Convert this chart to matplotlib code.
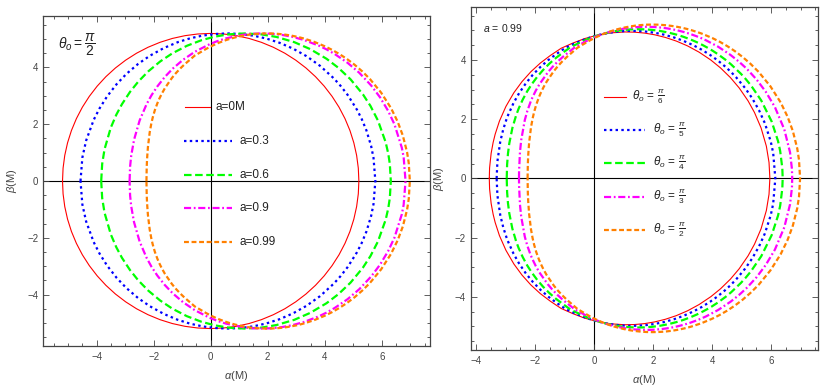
import numpy as np
import matplotlib.pyplot as plt
from matplotlib.lines import Line2D
from matplotlib.ticker import MultipleLocator

plt.rcParams['font.family'] = ['Liberation Sans', 'DejaVu Sans']
plt.rcParams['mathtext.fontset'] = 'custom'
plt.rcParams['mathtext.rm'] = 'Liberation Sans'
plt.rcParams['mathtext.it'] = 'Liberation Sans:italic'
plt.rcParams['mathtext.bf'] = 'Liberation Sans:bold'

# upper halves of the shadow contours (alpha, beta)
# left panel: theta_o = pi/2, different spin a
a0_alpha = [-5.196, -5.176, -5.117, -5.019, -4.883, -4.709, -4.500, -4.256, -3.980, -3.674,
            -3.340, -2.980, -2.598, -2.196, -1.777, -1.345, -0.902, -0.453, 0.000,
            0.453, 0.902, 1.345, 1.777, 2.196, 2.598, 2.980, 3.340, 3.674, 3.980,
            4.256, 4.500, 4.709, 4.883, 5.019, 5.117, 5.176, 5.196]
a0_beta = [0.000, 0.453, 0.902, 1.345, 1.777, 2.196, 2.598, 2.980, 3.340, 3.674,
           3.980, 4.256, 4.500, 4.709, 4.883, 5.019, 5.117, 5.176, 5.196,
           5.176, 5.117, 5.019, 4.883, 4.709, 4.500, 4.256, 3.980, 3.674, 3.340,
           2.980, 2.598, 2.196, 1.777, 1.345, 0.902, 0.453, 0.000]

a03_alpha = [-4.565, -4.500, -4.368, -4.103, -3.903, -3.635, -3.298, -2.958, -2.547, -2.131,
             -1.641, -1.146, -0.716, -0.282, 0.157, 0.600, 1.048, 1.500, 1.958, 2.420,
             2.887, 3.358, 3.835, 4.317, 4.560, 4.804, 5.131, 5.296, 5.461, 5.626,
             5.709, 5.774]
a03_beta = [0.000, 0.825, 1.423, 2.150, 2.546, 2.976, 3.410, 3.768, 4.121, 4.411,
            4.682, 4.891, 5.025, 5.120, 5.177, 5.196, 5.177, 5.117, 5.014, 4.864,
            4.661, 4.396, 4.054, 3.614, 3.343, 3.028, 2.507, 2.181, 1.779, 1.230,
            0.815, 0.000]

a06_alpha = [-3.839, -3.805, -3.723, -3.503, -3.308, -3.112, -2.829, -2.542, -2.191, -1.772,
             -1.343, -0.838, -0.318, 0.151, 0.633, 1.200, 1.785, 2.312, 2.932, 3.489,
             4.061, 4.479, 4.904, 5.337, 5.601, 5.867, 6.136, 6.226, 6.281, 6.316]
a06_beta = [0.000, 0.601, 1.115, 1.879, 2.336, 2.704, 3.137, 3.496, 3.858, 4.208,
            4.496, 4.759, 4.959, 5.084, 5.164, 5.196, 5.162, 5.071, 4.888, 4.644,
            4.304, 3.984, 3.579, 3.052, 2.645, 2.124, 1.362, 0.965, 0.605, 0.000]

a09_alpha = [-2.844, -2.826, -2.788, -2.687, -2.492, -2.250, -2.078, -1.875, -1.610, -1.331,
             -0.974, -0.557, -0.036, 0.222, 0.529, 1.141, 1.443, 1.800, 2.124, 2.506,
             2.852, 3.261, 3.791, 4.064, 4.342, 4.799, 5.210, 5.632, 5.940, 6.221,
             6.444, 6.701, 6.766, 6.832]
a09_beta = [0.000, 0.507, 0.885, 1.454, 2.131, 2.700, 3.015, 3.325, 3.662, 3.956,
            4.264, 4.549, 4.817, 4.921, 5.020, 5.150, 5.183, 5.196, 5.185, 5.143,
            5.079, 4.968, 4.766, 4.633, 4.475, 4.162, 3.810, 3.357, 2.943, 2.471,
            1.994, 1.175, 0.840, 0.000]

a099_alpha = [-2.252, -2.244, -2.231, -2.201, -2.138, -2.083, -2.031, -1.958, -1.868, -1.808,
              -1.710, -1.603, -1.358, -1.220, -1.070, -0.910, -0.739, -0.557, -0.364, -0.160,
              0.056, 0.282, 0.520, 0.685, 0.855, 1.030, 1.210, 1.395, 1.585, 1.780,
              1.980, 2.144, 2.310, 2.459, 2.610, 2.720, 2.830, 3.010, 3.147, 3.286,
              3.640, 4.006, 4.257, 4.512, 4.773, 5.038, 5.308, 5.584, 5.978, 6.324,
              6.558, 6.736, 6.886, 6.946, 6.983]
a099_beta = [0.000, 0.475, 0.780, 1.195, 1.715, 2.017, 2.241, 2.494, 2.741, 2.883,
             3.083, 3.273, 3.630, 3.798, 3.959, 4.113, 4.260, 4.418, 4.530, 4.651,
             4.763, 4.865, 4.955, 5.008, 5.055, 5.096, 5.131, 5.159, 5.179, 5.192,
             5.196, 5.193, 5.184, 5.172, 5.153, 5.137, 5.118, 5.082, 5.049, 5.012,
             4.895, 4.742, 4.617, 4.470, 4.299, 4.099, 3.865, 3.590, 3.109, 2.565,
             2.084, 1.603, 1.013, 0.626, 0.000]

# right panel: a = 0.99, different inclination (pi/2 is a099 above)
th6_alpha = [-3.550, -3.540, -3.487, -3.420, -3.351, -3.206, -2.987, -2.716, -2.439, -2.141,
             -1.821, -1.479, -1.115, -0.728, -0.320, 0.111, 0.565, 1.041, 1.371, 1.711,
             2.060, 2.420, 2.790, 3.170, 3.560, 3.960, 4.287, 4.621, 4.918, 5.220,
             5.439, 5.661, 5.840, 5.930, 5.959]
th6_beta = [0.000, 0.354, 0.849, 1.212, 1.491, 1.935, 2.429, 2.895, 3.271, 3.602,
            3.895, 4.153, 4.396, 4.567, 4.722, 4.839, 4.915, 4.947, 4.940, 4.909,
            4.850, 4.761, 4.638, 4.475, 4.264, 3.997, 3.731, 3.406, 3.056, 2.618,
            2.222, 1.703, 1.086, 0.538, 0.000]

th5_alpha = [-3.301, -3.275, -3.178, -3.076, -2.967, -2.909, -2.727, -2.541, -2.310, -2.075,
             -1.821, -1.549, -1.258, -0.948, -0.620, -0.272, 0.095, 0.481, 0.885, 1.166,
             1.455, 1.753, 2.059, 2.373, 2.697, 3.028, 3.369, 3.647, 3.931, 4.184,
             4.441, 4.627, 4.815, 5.121, 5.354, 5.590, 5.789, 5.990, 6.071, 6.144]
th5_beta = [0.000, 0.574, 1.242, 1.661, 1.997, 2.147, 2.548, 2.876, 3.214, 3.500,
            3.761, 3.999, 4.214, 4.424, 4.573, 4.715, 4.830, 4.915, 4.968, 4.983,
            4.981, 4.960, 4.919, 4.855, 4.765, 4.647, 4.496, 4.348, 4.172, 3.991,
            3.781, 3.609, 3.415, 3.050, 2.715, 2.303, 1.864, 1.240, 0.857, 0.000]

th4_alpha = [-2.959, -2.946, -2.917, -2.873, -2.769, -2.642, -2.557, -2.418, -2.267, -2.112,
             -1.920, -1.725, -1.514, -1.288, -1.046, -0.788, -0.515, -0.226, 0.079, 0.399,
             0.736, 0.969, 1.210, 1.457, 1.711, 1.973, 2.242, 2.517, 2.800, 3.032,
             3.268, 3.478, 3.691, 3.846, 4.003, 4.193, 4.451, 4.647, 4.979, 5.148,
             5.319, 5.666, 6.020, 6.236, 6.308, 6.381, 6.393]
th4_beta = [0.000, 0.468, 0.837, 1.177, 1.696, 2.124, 2.352, 2.659, 2.939, 3.181,
            3.439, 3.664, 3.876, 4.072, 4.254, 4.439, 4.569, 4.701, 4.814, 4.907,
            4.977, 5.010, 5.031, 5.040, 5.035, 5.016, 4.980, 4.927, 4.855, 4.782,
            4.694, 4.603, 4.498, 4.414, 4.322, 4.198, 4.010, 3.848, 3.532, 3.347,
            3.139, 2.632, 1.920, 1.258, 0.925, 0.337, 0.000]

th3_alpha = [-2.543, -2.541, -2.511, -2.469, -2.346, -2.261, -2.157, -2.088, -1.975, -1.851,
             -1.568, -1.408, -1.236, -1.051, -0.854, -0.644, -0.421, -0.185, 0.064, 0.326,
             0.601, 0.791, 0.988, 1.190, 1.397, 1.611, 1.830, 2.055, 2.286, 2.475,
             2.668, 2.840, 3.014, 3.140, 3.268, 3.476, 3.634, 3.794, 4.204, 4.626,
             4.915, 5.151, 5.210, 5.511, 5.817, 6.130, 6.448, 6.642, 6.707, 6.716]
th3_beta = [0.000, 0.242, 0.879, 1.290, 1.973, 2.277, 2.568, 2.732, 2.963, 3.179,
            3.579, 3.765, 3.942, 4.110, 4.268, 4.434, 4.552, 4.677, 4.789, 4.887,
            4.970, 5.017, 5.055, 5.086, 5.107, 5.120, 5.122, 5.113, 5.093, 5.068,
            5.034, 4.997, 4.953, 4.916, 4.876, 4.801, 4.737, 4.665, 4.449, 4.169,
            3.940, 3.725, 3.666, 3.337, 2.930, 2.407, 1.654, 0.880, 0.312, 0.000]

left_labels = ['a=0M', 'a=0.3', 'a=0.6', 'a=0.9', 'a=0.99']
right_labels = [r'$\theta_o\, =\, \frac{\pi}{6}$', r'$\theta_o\, =\, \frac{\pi}{5}$',
                r'$\theta_o\, =\, \frac{\pi}{4}$', r'$\theta_o\, =\, \frac{\pi}{3}$',
                r'$\theta_o\, =\, \frac{\pi}{2}$']


def closed(al, be):
    # mirror the upper half to get the full contour
    al = np.array(al)
    be = np.array(be)
    return np.r_[al, al[::-1]], np.r_[be, -be[::-1]]


styles = [dict(color='#FF0000', lw=0.8, ls='-'),
          dict(color='#0000FF', lw=1.6, ls=(0, (1.1, 1.5))),
          dict(color='#00FF00', lw=1.6, ls=(0, (3.4, 1.6))),
          dict(color='#FF00FF', lw=1.6, ls=(0, (3.2, 1.2, 0.8, 1.2))),
          dict(color='#FF8000', lw=1.6, ls=(0, (2.2, 1.2)))]

W, H = 825, 387
fig = plt.figure(figsize=(8.25, 3.87), dpi=100)
ax1 = fig.add_axes([43 / W, 41 / H, 387 / W, 330.3 / H])
ax2 = fig.add_axes([470.7 / W, 37 / H, 347.3 / W, 343 / H])

left_curves = [(a0_alpha, a0_beta), (a03_alpha, a03_beta), (a06_alpha, a06_beta),
               (a09_alpha, a09_beta), (a099_alpha, a099_beta)]
right_curves = [(th6_alpha, th6_beta), (th5_alpha, th5_beta), (th4_alpha, th4_beta),
                (th3_alpha, th3_beta), (a099_alpha, a099_beta)]

for ax, curves in [(ax1, left_curves), (ax2, right_curves)]:
    ax.axhline(0, color='black', lw=0.8, zorder=1)
    ax.axvline(0, color='black', lw=0.8, zorder=1)
    for (al, be), st in zip(curves, styles):
        x, y = closed(al, be)
        ax.plot(x, y, zorder=2, **st)
    ax.xaxis.set_major_locator(MultipleLocator(2))
    ax.yaxis.set_major_locator(MultipleLocator(2))
    ax.xaxis.set_minor_locator(MultipleLocator(0.5))
    ax.yaxis.set_minor_locator(MultipleLocator(0.5))
    ax.tick_params(which='both', direction='in', top=True, right=True,
                   colors='#444444', labelsize=7, width=0.6)
    ax.tick_params(which='major', length=4)
    ax.tick_params(which='minor', length=2.2)
    ax.tick_params(axis='x', pad=4.5)
    ax.tick_params(axis='y', pad=3.5)
    for sp in ax.spines.values():
        sp.set_color('#444444')
        sp.set_linewidth(0.9)
    ax.set_xlabel(r'$\alpha$(M)', fontsize=8, color='#444444', labelpad=5)
    ax.set_ylabel(r'$\beta$(M)', fontsize=8, color='#444444', labelpad=6)

ax1.set_xlim(-5.88, 7.69)
ax1.set_ylim(-5.81, 5.82)
ax2.set_xlim(-4.18, 7.59)
ax2.set_ylim(-5.8, 5.79)


def legend_entry(x0, x1, xt, y, label, st):
    yy = 1 - y / H
    fig.add_artist(Line2D([x0 / W, x1 / W], [yy, yy], transform=fig.transFigure, **st))
    fig.text(xt / W, yy, label, ha='left', va='center', fontsize=8.5, color='#222222')


left_rows = [106.7, 140.7, 175.0, 207.7, 242.3]
for i, (lab, st) in enumerate(zip(left_labels, styles)):
    if i == 0:
        legend_entry(185, 209.5, 215.5, left_rows[i], lab, st)
    else:
        legend_entry(184, 232, 240, left_rows[i], lab, st)

right_rows = [97.0, 130.0, 163.0, 196.5, 230.0]
for i, (lab, st) in enumerate(zip(right_labels, styles)):
    if i == 0:
        legend_entry(604, 626, 631.5, right_rows[i], lab, st)
    else:
        legend_entry(603.5, 645, 653, right_rows[i], lab, st)

fig.text(58 / W, 1 - 45 / H, r'$\theta_o=\dfrac{\pi}{2}$', ha='left', va='center',
         fontsize=10, color='#222222')
fig.text(483 / W, 1 - 27.5 / H, r'$a\,=\,0.99$', ha='left', va='center',
         fontsize=7.5, color='#222222')

fig.savefig('out.png', dpi=100)
